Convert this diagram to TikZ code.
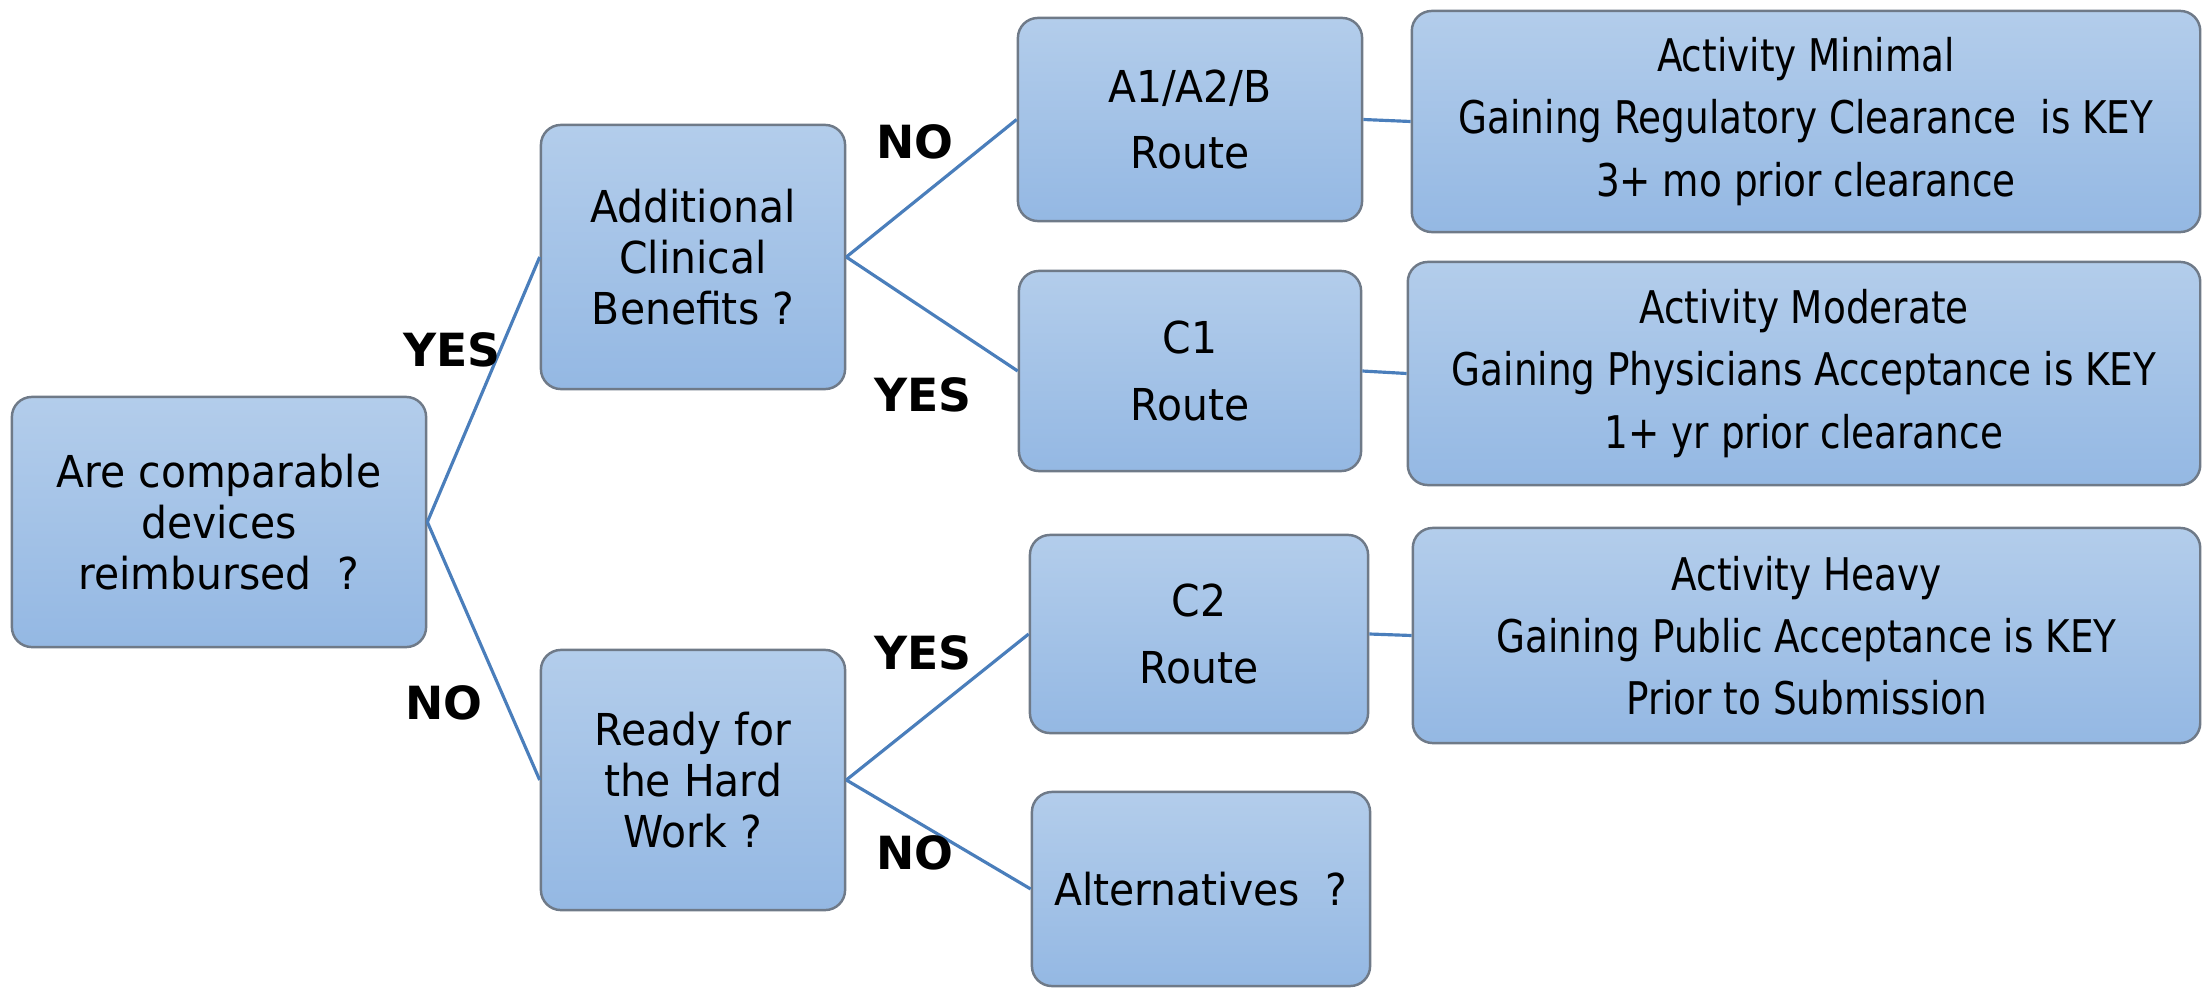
\documentclass[tikz,border=0pt]{standalone}
\usepackage{fontspec}
\setmainfont{DejaVu Sans}
\newfontfamily\boxfont[FakeStretch=0.93]{DejaVu Sans}
\newfontfamily\condfont[FakeStretch=0.83]{DejaVu Sans}
\definecolor{boxtop}{HTML}{B3CDEB}
\definecolor{boxbot}{HTML}{94B8E3}
\definecolor{boxline}{HTML}{6F7A88}
\definecolor{conn}{HTML}{4A7EBB}
\begin{document}
\begin{tikzpicture}[x=0.01cm,y=-0.01cm,
  box/.style={draw=boxline, line width=0.7pt, rounded corners=0.2cm,
    top color=boxtop, bottom color=boxbot, align=center, inner sep=0pt,
    font=\boxfont\fontsize{12.5}{14.6}\selectfont},
  routebox/.style={box, font=\boxfont\fontsize{12.5}{19}\selectfont},
  infobox/.style={box, font=\condfont\fontsize{12.8}{17.7}\selectfont},
  lbl/.style={font=\bfseries\fontsize{13}{15}\selectfont, inner sep=0pt},
  link/.style={draw=conn, line width=0.9pt}]
\useasboundingbox (0,0) rectangle (2203,988);
\node[box, minimum width=4.14cm, minimum height=2.50cm] (b1) at (219,522) {Are comparable\\devices\\reimbursed\ \ ?};
\node[box, minimum width=3.04cm, minimum height=2.64cm] (add) at (693,257) {Additional\\Clinical\\Benefits ?};
\node[box, minimum width=3.04cm, minimum height=2.60cm] (ready) at (693,780) {Ready for\\the Hard\\Work ?};
\node[routebox, minimum width=3.44cm, minimum height=2.03cm] (a1) at (1190,119.5) {A1/A2/B\\Route};
\node[routebox, minimum width=3.42cm, minimum height=2.00cm] (c1) at (1190,371) {C1\\Route};
\node[routebox, minimum width=3.38cm, minimum height=1.98cm] (c2) at (1199,634) {C2\\Route};
\node[box, minimum width=3.38cm, minimum height=1.94cm] (alt) at (1201,889) {Alternatives\ \ ?};
\node[infobox, minimum width=7.88cm, minimum height=2.21cm] (min) at (1806,121.5) {Activity Minimal\\Gaining Regulatory Clearance\ \ is KEY\\3+ mo prior clearance};
\node[infobox, minimum width=7.92cm, minimum height=2.23cm] (mod) at (1804,373.5) {Activity Moderate\\Gaining Physicians Acceptance is KEY\\1+ yr prior clearance};
\node[infobox, minimum width=7.87cm, minimum height=2.15cm] (heavy) at (1806.5,635.5) {Activity Heavy\\Gaining Public Acceptance is KEY\\Prior to Submission};
\draw[link] (b1.east) -- (add.west);
\draw[link] (b1.east) -- (ready.west);
\draw[link] (add.east) -- (a1.west);
\draw[link] (add.east) -- (c1.west);
\draw[link] (ready.east) -- (c2.west);
\draw[link] (ready.east) -- (alt.west);
\draw[link] (a1.east) -- (min.west);
\draw[link] (c1.east) -- (mod.west);
\draw[link] (c2.east) -- (heavy.west);
\node[lbl] (l1) at (452,350) {YES};
\node[lbl] (l2) at (444,703) {NO};
\node[lbl] (l3) at (915,142) {NO};
\node[lbl] (l4) at (923,395) {YES};
\node[lbl] (l5) at (923,653) {YES};
\node[lbl] (l6) at (915,853) {NO};
\end{tikzpicture}
\end{document}
